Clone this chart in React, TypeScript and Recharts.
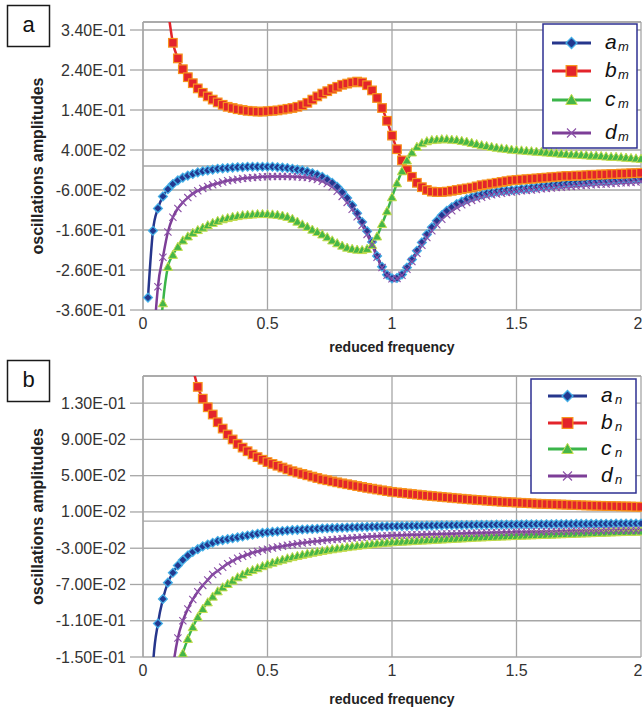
import React from 'react';
import { LineChart, Line, XAxis, YAxis, CartesianGrid, ReferenceLine } from 'recharts';

// reduced frequency, 0.02 .. 2.00
const freq = [
  0.02, 0.04, 0.06, 0.08, 0.1, 0.12, 0.14, 0.16, 0.18, 0.2,
  0.22, 0.24, 0.26, 0.28, 0.3, 0.32, 0.34, 0.36, 0.38, 0.4,
  0.42, 0.44, 0.46, 0.48, 0.5, 0.52, 0.54, 0.56, 0.58, 0.6,
  0.62, 0.64, 0.66, 0.68, 0.7, 0.72, 0.74, 0.76, 0.78, 0.8,
  0.82, 0.84, 0.86, 0.88, 0.9, 0.92, 0.94, 0.96, 0.98, 1,
  1.02, 1.04, 1.06, 1.08, 1.1, 1.12, 1.14, 1.16, 1.18, 1.2,
  1.22, 1.24, 1.26, 1.28, 1.3, 1.32, 1.34, 1.36, 1.38, 1.4,
  1.42, 1.44, 1.46, 1.48, 1.5, 1.52, 1.54, 1.56, 1.58, 1.6,
  1.62, 1.64, 1.66, 1.68, 1.7, 1.72, 1.74, 1.76, 1.78, 1.8,
  1.82, 1.84, 1.86, 1.88, 1.9, 1.92, 1.94, 1.96, 1.98, 2,
];

// panel a
const aM = [
  -0.329, -0.162, -0.106, -0.076, -0.058, -0.045, -0.036, -0.029, -0.024, -0.02,
  -0.016, -0.013, -0.011, -0.009, -0.007, -0.006, -0.005, -0.004, -0.003, -0.003,
  -0.002, -0.002, -0.002, -0.002, -0.002, -0.002, -0.003, -0.004, -0.005, -0.007,
  -0.009, -0.011, -0.014, -0.018, -0.022, -0.027, -0.034, -0.042, -0.052, -0.065,
  -0.08, -0.098, -0.118, -0.14, -0.163, -0.19, -0.225, -0.252, -0.272, -0.281,
  -0.28, -0.271, -0.254, -0.234, -0.212, -0.191, -0.171, -0.153, -0.137, -0.123,
  -0.112, -0.103, -0.095, -0.089, -0.083, -0.078, -0.074, -0.071, -0.068, -0.066,
  -0.064, -0.062, -0.061, -0.06, -0.059, -0.057, -0.056, -0.054, -0.053, -0.051,
  -0.05, -0.048, -0.047, -0.045, -0.044, -0.043, -0.042, -0.041, -0.04, -0.039,
  -0.038, -0.037, -0.037, -0.036, -0.035, -0.034, -0.033, -0.033, -0.032, -0.031,
];
const bM = [
  1.2, 0.8, 0.6, 0.47, 0.39, 0.308, 0.269, 0.242, 0.222, 0.207,
  0.194, 0.183, 0.174, 0.166, 0.159, 0.153, 0.148, 0.145, 0.142, 0.14,
  0.138, 0.137, 0.136, 0.136, 0.137, 0.138, 0.139, 0.141, 0.143, 0.145,
  0.148, 0.152, 0.158, 0.166, 0.174, 0.181, 0.187, 0.193, 0.198, 0.203,
  0.206, 0.209, 0.211, 0.209, 0.202, 0.189, 0.17, 0.145, 0.113, 0.076,
  0.042, 0.014, -0.01, -0.027, -0.042, -0.053, -0.06, -0.064, -0.065, -0.065,
  -0.064, -0.062, -0.06, -0.058, -0.056, -0.054, -0.051, -0.048, -0.046, -0.044,
  -0.042, -0.04, -0.038, -0.036, -0.035, -0.034, -0.033, -0.032, -0.031, -0.03,
  -0.029, -0.028, -0.027, -0.026, -0.025, -0.025, -0.024, -0.024, -0.023, -0.022,
  -0.022, -0.021, -0.021, -0.02, -0.02, -0.019, -0.019, -0.018, -0.018, -0.017,
];
const cM = [
  -1.2, -0.8, -0.5, -0.343, -0.252, -0.222, -0.202, -0.186, -0.176, -0.167,
  -0.16, -0.154, -0.148, -0.142, -0.137, -0.133, -0.13, -0.127, -0.125, -0.123,
  -0.122, -0.121, -0.12, -0.12, -0.12, -0.121, -0.122, -0.124, -0.127, -0.132,
  -0.139, -0.146, -0.152, -0.159, -0.165, -0.171, -0.178, -0.186, -0.193, -0.199,
  -0.204, -0.207, -0.209, -0.21, -0.207, -0.197, -0.176, -0.145, -0.113, -0.078,
  -0.043, -0.013, 0.014, 0.034, 0.048, 0.057, 0.062, 0.065, 0.066, 0.067,
  0.067, 0.066, 0.065, 0.063, 0.061, 0.058, 0.055, 0.052, 0.05, 0.048,
  0.046, 0.044, 0.043, 0.041, 0.04, 0.039, 0.038, 0.037, 0.036, 0.035,
  0.034, 0.033, 0.032, 0.031, 0.03, 0.029, 0.029, 0.028, 0.027, 0.026,
  0.026, 0.025, 0.024, 0.023, 0.023, 0.022, 0.021, 0.02, 0.019, 0.018,
];
const dM = [
  -1.0, -0.5, -0.302, -0.228, -0.165, -0.128, -0.106, -0.091, -0.079, -0.069,
  -0.062, -0.056, -0.051, -0.047, -0.043, -0.04, -0.037, -0.035, -0.033, -0.031,
  -0.03, -0.029, -0.028, -0.027, -0.027, -0.026, -0.026, -0.026, -0.026, -0.027,
  -0.027, -0.028, -0.029, -0.031, -0.034, -0.038, -0.044, -0.052, -0.063, -0.076,
  -0.091, -0.108, -0.127, -0.148, -0.171, -0.197, -0.228, -0.254, -0.273, -0.282,
  -0.281, -0.273, -0.258, -0.239, -0.218, -0.198, -0.179, -0.162, -0.147, -0.133,
  -0.122, -0.112, -0.104, -0.097, -0.091, -0.086, -0.082, -0.078, -0.075, -0.072,
  -0.07, -0.068, -0.066, -0.065, -0.064, -0.062, -0.061, -0.06, -0.059, -0.057,
  -0.056, -0.055, -0.054, -0.053, -0.052, -0.051, -0.05, -0.049, -0.048, -0.047,
  -0.046, -0.045, -0.045, -0.044, -0.043, -0.042, -0.042, -0.041, -0.04, -0.039,
];

// panel b
const aN = [
  -0.4, -0.16, -0.113, -0.086, -0.068, -0.057, -0.049, -0.043, -0.038, -0.034,
  -0.031, -0.028, -0.026, -0.024, -0.022, -0.021, -0.02, -0.019, -0.018, -0.017,
  -0.016, -0.015, -0.014, -0.013, -0.0125, -0.012, -0.0115, -0.011, -0.0105, -0.01,
  -0.0097, -0.0094, -0.0091, -0.0088, -0.0085, -0.0082, -0.008, -0.0078, -0.0076, -0.0074,
  -0.0072, -0.007, -0.0068, -0.0066, -0.0065, -0.0063, -0.0062, -0.006, -0.0059, -0.0058,
  -0.0057, -0.0056, -0.0055, -0.0054, -0.0053, -0.0052, -0.0051, -0.005, -0.0049, -0.0048,
  -0.0047, -0.0047, -0.0046, -0.0045, -0.0044, -0.0044, -0.0043, -0.0042, -0.0042, -0.0041,
  -0.004, -0.004, -0.0039, -0.0039, -0.0038, -0.0038, -0.0037, -0.0037, -0.0036, -0.0036,
  -0.0035, -0.0035, -0.0034, -0.0034, -0.0033, -0.0033, -0.0032, -0.0032, -0.0032, -0.0031,
  -0.0031, -0.003, -0.003, -0.003, -0.0029, -0.0029, -0.0029, -0.0028, -0.0028, -0.0028,
];
const bN = [
  3.0, 1.5, 1.0, 0.7, 0.52, 0.4, 0.31, 0.25, 0.205, 0.17,
  0.148, 0.135, 0.1255, 0.1175, 0.109, 0.102, 0.0955, 0.09, 0.085, 0.081,
  0.077, 0.0735, 0.0705, 0.0676, 0.065, 0.063, 0.061, 0.059, 0.057, 0.055,
  0.0535, 0.052, 0.0505, 0.049, 0.0475, 0.046, 0.045, 0.0438, 0.0427, 0.0416,
  0.0406, 0.0396, 0.0386, 0.0376, 0.0366, 0.0357, 0.0348, 0.0339, 0.033, 0.0322,
  0.0316, 0.031, 0.0304, 0.0298, 0.0292, 0.0286, 0.0281, 0.0276, 0.0271, 0.0266,
  0.0261, 0.0256, 0.0251, 0.0246, 0.0241, 0.0237, 0.0233, 0.0229, 0.0225, 0.0221,
  0.0217, 0.0213, 0.021, 0.0207, 0.0204, 0.0201, 0.0198, 0.0195, 0.0192, 0.019,
  0.0188, 0.0186, 0.0184, 0.0182, 0.018, 0.0178, 0.0176, 0.0174, 0.0172, 0.017,
  0.0169, 0.0168, 0.0166, 0.0165, 0.0164, 0.0162, 0.0161, 0.016, 0.0158, 0.0157,
];
const cN = [
  -1.5, -0.9, -0.6, -0.42, -0.31, -0.23, -0.17, -0.146, -0.13, -0.117,
  -0.106, -0.097, -0.0896, -0.0833, -0.0775, -0.0731, -0.0694, -0.0657, -0.062, -0.059,
  -0.056, -0.054, -0.052, -0.0497, -0.0477, -0.0459, -0.0442, -0.0426, -0.0411, -0.0397,
  -0.0384, -0.0372, -0.036, -0.0349, -0.0339, -0.0329, -0.032, -0.0311, -0.0303, -0.0295,
  -0.0287, -0.028, -0.0273, -0.0266, -0.026, -0.0254, -0.0248, -0.0243, -0.0238, -0.0233,
  -0.023, -0.0227, -0.0224, -0.0221, -0.0218, -0.0215, -0.0212, -0.0209, -0.0206, -0.0203,
  -0.02, -0.0197, -0.0194, -0.0191, -0.0188, -0.0185, -0.0182, -0.018, -0.0177, -0.0175,
  -0.0172, -0.017, -0.0168, -0.0165, -0.0163, -0.0161, -0.0159, -0.0157, -0.0155, -0.0153,
  -0.0151, -0.0149, -0.0147, -0.0145, -0.0143, -0.0141, -0.0139, -0.0137, -0.0135, -0.0133,
  -0.0131, -0.0129, -0.0127, -0.0125, -0.0123, -0.0121, -0.0119, -0.0118, -0.0117, -0.0115,
];
const dN = [
  -1.0, -0.6, -0.4, -0.28, -0.21, -0.162, -0.129, -0.11, -0.097, -0.0865,
  -0.078, -0.071, -0.065, -0.059, -0.055, -0.051, -0.047, -0.044, -0.041, -0.039,
  -0.037, -0.035, -0.0335, -0.032, -0.031, -0.0298, -0.0287, -0.0277, -0.0267, -0.0258,
  -0.025, -0.0242, -0.0235, -0.0228, -0.0222, -0.0216, -0.021, -0.0205, -0.02, -0.0195,
  -0.019, -0.0186, -0.0182, -0.0178, -0.0174, -0.0171, -0.0168, -0.0165, -0.0162, -0.016,
  -0.0158, -0.0156, -0.0154, -0.0152, -0.0151, -0.0149, -0.0148, -0.0146, -0.0145, -0.0143,
  -0.0142, -0.014, -0.0139, -0.0137, -0.0136, -0.0134, -0.0133, -0.0131, -0.013, -0.0128,
  -0.0127, -0.0126, -0.0124, -0.0123, -0.0122, -0.0121, -0.012, -0.0119, -0.0118, -0.0117,
  -0.0116, -0.0115, -0.0114, -0.0113, -0.0112, -0.0111, -0.011, -0.0109, -0.0108, -0.0107,
  -0.0106, -0.0106, -0.0105, -0.0104, -0.0103, -0.0103, -0.0102, -0.0101, -0.0101, -0.01,
];

const xTicks = [0, 0.5, 1, 1.5, 2];
const xTickLabels = ['0', '0.5', '1', '1.5', '2'];
const topTicks = [-0.36, -0.26, -0.16, -0.06, 0.04, 0.14, 0.24, 0.34];
const topTickLabels = ['-3.60E-01', '-2.60E-01', '-1.60E-01', '-6.00E-02', '4.00E-02', '1.40E-01', '2.40E-01', '3.40E-01'];
const bottomTicks = [-0.15, -0.11, -0.07, -0.03, 0.01, 0.05, 0.09, 0.13];
const bottomTickLabels = ['-1.50E-01', '-1.10E-01', '-7.00E-02', '-3.00E-02', '1.00E-02', '5.00E-02', '9.00E-02', '1.30E-01'];
const seriesLetters = ['a', 'b', 'c', 'd'];

const FONT = '"Liberation Sans", Arial, sans-serif';
const GRID = '#A6A6A6';

const SERIES = [
  { key: 'a', line: '#26368C', shape: 'diamond' },
  { key: 'b', line: '#E3242B', shape: 'square' },
  { key: 'c', line: '#3BB54A', shape: 'triangle' },
  { key: 'd', line: '#7D3E97', shape: 'cross' },
];

const marker = (shape: string, cx: number, cy: number, k: number, key?: any) => {
  switch (shape) {
    case 'diamond': {
      const s = 4.4 * k;
      return (
        <path key={key} d={`M${cx},${cy - s}L${cx + s},${cy}L${cx},${cy + s}L${cx - s},${cy}Z`}
          fill="#23388F" stroke="#43AEE6" strokeWidth={1.3} />
      );
    }
    case 'square': {
      const s = 4.3 * k;
      return <rect key={key} x={cx - s} y={cy - s} width={2 * s} height={2 * s} fill="#E3242B" stroke="#F7941D" strokeWidth={1.2} />;
    }
    case 'triangle': {
      const s = 4.6 * k;
      return (
        <path key={key} d={`M${cx},${cy - s}L${cx + s},${cy + s * 0.78}L${cx - s},${cy + s * 0.78}Z`}
          fill="#45B648" stroke="#C6DD4F" strokeWidth={1} />
      );
    }
    default: {
      const s = 3.6 * k;
      return (
        <path key={key} d={`M${cx - s},${cy - s}L${cx + s},${cy + s}M${cx - s},${cy + s}L${cx + s},${cy - s}`}
          stroke="#8A4FA6" strokeWidth={1.1} fill="none" />
      );
    }
  }
};

const dotFor = (shape: string) => (p: any) => {
  if (p.cx == null || p.cy == null || isNaN(p.cy)) return <g key={`n${p.index}`} />;
  return marker(shape, p.cx, p.cy, 1, `m${p.index}`);
};

type PanelProps = {
  top: number;
  height: number;
  marginTop: number;
  xAxisHeight: number;
  xTitleOffset: number;
  series: number[][];
  yTicks: number[];
  yLabels: string[];
  yDomain: [number, number];
  letter: string;
  letterBox: { y: number; base: number };
  sub: string;
  legend: { x: number; y: number; w: number; h: number; rows: number[]; lx1: number; lx2: number; tx: number; sx: number };
};

function Panel(props: PanelProps) {
  const { top, height, marginTop, xAxisHeight, xTitleOffset, series, yTicks, yLabels, yDomain, letter, letterBox, sub, legend } = props;
  const data = freq.map((x, i) => ({ x, a: series[0][i], b: series[1][i], c: series[2][i], d: series[3][i] }));

  return (
    <div style={{ position: 'absolute', left: 0, top, width: 642, height }}>
      <LineChart width={642} height={height} data={data}
        margin={{ top: marginTop, right: 1, left: 0, bottom: 0 }}
        style={{ fontFamily: FONT }}>
        <CartesianGrid stroke={GRID} strokeWidth={1.3} />
        <XAxis dataKey="x" type="number" domain={[0, 2]} ticks={xTicks} height={xAxisHeight}
          axisLine={false} tickLine={false} tickSize={5} tickMargin={2}
          tick={(p: any) => (
            <text x={p.x} y={p.y + 12} textAnchor="middle" fontSize={16} fill="#333" fontFamily={FONT}>
              {xTickLabels[xTicks.indexOf(p.payload.value)]}
            </text>
          )}
          label={{ value: 'reduced frequency', position: 'insideBottom', offset: xTitleOffset,
            style: { fontWeight: 700, fontSize: 14, fill: '#222', fontFamily: FONT } }} />
        <YAxis type="number" domain={yDomain} ticks={yTicks} allowDataOverflow width={143}
          axisLine={{ stroke: GRID, strokeWidth: 1.3 }} tickLine={{ stroke: GRID, strokeWidth: 1.3 }}
          tickSize={13} tickMargin={4}
          tick={(p: any) => (
            <text x={p.x} y={p.y + 5.5} textAnchor="end" fontSize={16} fill="#333" fontFamily={FONT}>
              {yLabels[yTicks.indexOf(p.payload.value)]}
            </text>
          )}
          label={{ value: 'oscillations amplitudes', angle: -90, position: 'insideLeft', offset: 37,
            style: { textAnchor: 'middle', fontWeight: 700, fontSize: 16, fill: '#222', fontFamily: FONT } }} />
        <ReferenceLine y={0} stroke={GRID} strokeWidth={1.3} />
        <ReferenceLine y={yDomain[1]} stroke={GRID} strokeWidth={1.3} />
        {SERIES.map((s) => (
          <Line key={s.key} dataKey={s.key} type="monotone" stroke={s.line} strokeWidth={2.5}
            dot={dotFor(s.shape)} activeDot={false} isAnimationActive={false} />
        ))}
      </LineChart>

      <svg width={642} height={height} style={{ position: 'absolute', left: 0, top: 0, pointerEvents: 'none' }}>
        <rect x={7.5} y={letterBox.y} width={42} height={41} fill="#fff" stroke="#1a1a1a" strokeWidth={1.5} />
        <text x={28.5} y={letterBox.base} textAnchor="middle" fontSize={22} fontFamily={FONT} fill="#111">{letter}</text>

        <rect x={legend.x} y={legend.y} width={legend.w} height={legend.h} fill="#fff" stroke="#2E3192" strokeWidth={1.5} />
        {SERIES.map((s, i) => {
          const y = legend.rows[i];
          const mid = (legend.lx1 + legend.lx2) / 2;
          return (
            <g key={s.key}>
              <line x1={legend.lx1} x2={legend.lx2} y1={y} y2={y} stroke={s.line} strokeWidth={3} />
              {marker(s.shape, mid, y, 1.25)}
              <text x={legend.tx} y={y + 6} fontSize={21} fontStyle="italic" fontFamily={FONT} fill="#111">
                {seriesLetters[i]}
              </text>
              <text x={legend.sx} y={y + 8} fontSize={13} fontStyle="italic" fontFamily={FONT} fill="#111">
                {sub}
              </text>
            </g>
          );
        })}
      </svg>
    </div>
  );
}

export default function App() {
  return (
    <div style={{ position: 'absolute', left: 0, top: 0, width: 642, height: 715, background: '#fff', overflow: 'hidden' }}>
      <Panel top={0} height={357} marginTop={22} xAxisHeight={47} xTitleOffset={5}
        series={[aM, bM, cM, dM]} yTicks={topTicks} yLabels={topTickLabels} yDomain={[-0.36, 0.36]}
        letter="a" letterBox={{ y: 5.5, base: 32 }} sub="m"
        legend={{ x: 543, y: 24, w: 94, h: 124, rows: [43, 71, 100, 133], lx1: 552, lx2: 591, tx: 605, sx: 618 }} />
      <Panel top={357} height={358} marginTop={19} xAxisHeight={58} xTitleOffset={11}
        series={[aN, bN, cN, dN]} yTicks={bottomTicks} yLabels={bottomTickLabels} yDomain={[-0.15, 0.16]}
        letter="b" letterBox={{ y: 3.5, base: 30 }} sub="n"
        legend={{ x: 531, y: 22, w: 105, h: 114, rows: [39, 66, 92, 119], lx1: 548, lx2: 587, tx: 601, sx: 615 }} />
    </div>
  );
}
